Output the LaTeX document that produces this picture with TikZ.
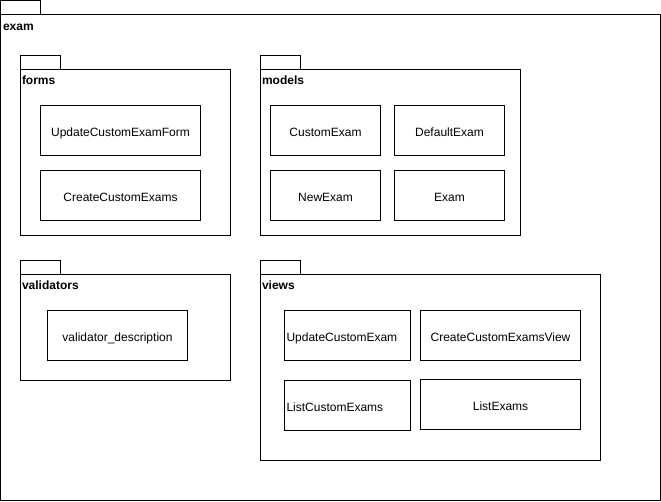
\documentclass[tikz,border=0pt]{standalone}
\usepackage{fontspec}
\setmainfont{Liberation Sans}
\begin{document}
\begin{tikzpicture}[x=1pt,y=-1pt,line width=1pt,
  every node/.style={inner sep=0pt,outer sep=0pt},
  pkgbody/.style={draw,anchor=north west,rectangle},
  pkgtab/.style={draw,anchor=south west,rectangle,minimum width=40pt,minimum height=14pt},
  pkglabel/.style={anchor=base west,font=\fontsize{12}{14}\selectfont\bfseries},
  cls/.style={draw,anchor=north west,rectangle,minimum height=50pt,font=\fontsize{12}{14}\selectfont,align=center,text height=11pt,text depth=0pt},
  clsl/.style={draw,anchor=north west,rectangle,minimum height=50pt,font=\fontsize{12}{14}\selectfont,text width=122pt,inner xsep=2pt,align=left,text height=11pt,text depth=0pt}]
\useasboundingbox (0,0) rectangle (661,501);
\fill[white] (0,0) rectangle (661,501);
% exam
\node[pkgbody,minimum width=660pt,minimum height=486pt] (exam) at (0.5,14.5) {};
\node[pkgtab] (examtab) at (exam.north west) {};
\node[pkglabel] (examlbl) at (3,30) {exam};
% forms
\node[pkgbody,minimum width=210pt,minimum height=166pt] (forms) at (20.5,69.5) {};
\node[pkgtab] (formstab) at (forms.north west) {};
\node[pkglabel] (formslbl) at (22,84.5) {forms};
\node[cls,minimum width=160pt] (ucef) at (40.5,105.5) {UpdateCustomExamForm};
\node[cls,minimum width=160pt] (cce) at (40.5,170.5) {CreateCustomExams};
% models
\node[pkgbody,minimum width=260pt,minimum height=166pt] (models) at (260.5,69.5) {};
\node[pkgtab] (modelstab) at (models.north west) {};
\node[pkglabel] (modelslbl) at (262,84.5) {models};
\node[cls,minimum width=110pt] (customexam) at (270.5,105.5) {CustomExam};
\node[cls,minimum width=110pt] (defaultexam) at (394.5,105.5) {DefaultExam};
\node[cls,minimum width=110pt] (newexam) at (270.5,170.5) {NewExam};
\node[cls,minimum width=110pt] (examcls) at (394.5,170.5) {Exam};
% validators
\node[pkgbody,minimum width=210pt,minimum height=106pt] (validators) at (20.5,274.5) {};
\node[pkgtab] (validatorstab) at (validators.north west) {};
\node[pkglabel] (validatorslbl) at (22,289.5) {validators};
\node[cls,minimum width=140pt] (vdesc) at (47.5,310.5) {validator\_description};
% views
\node[pkgbody,minimum width=340pt,minimum height=186pt] (views) at (260.5,274.5) {};
\node[pkgtab] (viewstab) at (views.north west) {};
\node[pkglabel] (viewslbl) at (262,289.5) {views};
\node[clsl] (uce) at (284.5,310.5) {UpdateCustomExam};
\node[cls,minimum width=160pt] (ccev) at (420.5,310.5) {CreateCustomExamsView};
\node[clsl] (lce) at (284.5,380.5) {ListCustomExams};
\node[cls,minimum width=160pt] (le) at (420.5,379.5) {ListExams};
\end{tikzpicture}
\end{document}
